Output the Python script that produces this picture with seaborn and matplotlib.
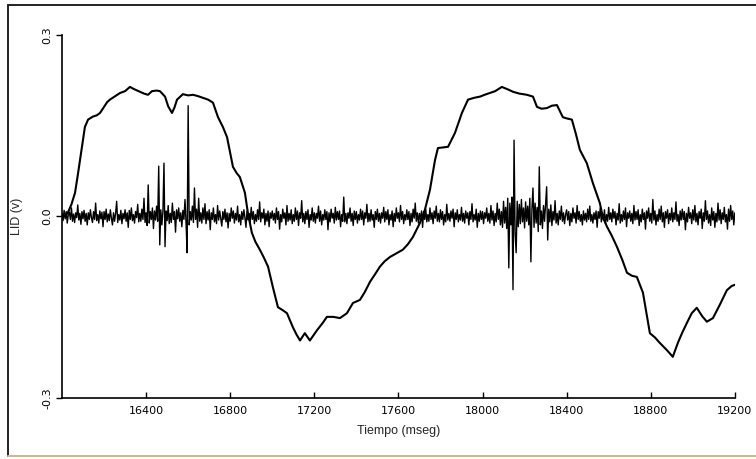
import numpy as np
import pandas as pd
import matplotlib
matplotlib.use("Agg")
import matplotlib.pyplot as plt
import seaborn as sns
from matplotlib.lines import Line2D

# ---- data ----
# slow waveform (time in ms, LID in volts)
wave_t = [16000, 16015, 16029, 16045, 16062, 16075, 16086, 16098, 16109, 16124, 16147, 16165,
          16181, 16200, 16215, 16228, 16250, 16276, 16300, 16323, 16345, 16371, 16390, 16409,
          16428, 16450, 16466, 16490, 16505, 16523, 16535, 16547, 16575, 16600, 16623, 16645,
          16670, 16695, 16718, 16742, 16765, 16785, 16800, 16813, 16830, 16846, 16870, 16884,
          16903, 16920, 16941, 16960, 16980, 17003, 17027, 17050, 17070, 17098, 17115, 17132,
          17155, 17179, 17195, 17213, 17240, 17260, 17290, 17322, 17355, 17384, 17417, 17440,
          17465, 17490, 17512, 17535, 17560, 17590, 17621, 17645, 17669, 17702, 17726, 17750,
          17774, 17788, 17810, 17836, 17869, 17902, 17931, 17960, 17988, 18010, 18035, 18060,
          18092, 18120, 18145, 18175, 18211, 18240, 18259, 18280, 18306, 18330, 18354, 18382,
          18400, 18425, 18445, 18463, 18496, 18525, 18558, 18572, 18592, 18615, 18639, 18665,
          18687, 18710, 18734, 18763, 18780, 18796, 18820, 18843, 18860, 18877, 18905, 18929,
          18950, 18972, 18995, 19019, 19045, 19067, 19096, 19130, 19162, 19185, 19200]
wave_v = [0.000, 0.001, 0.007, 0.020, 0.039, 0.068, 0.094, 0.122, 0.148, 0.160, 0.165, 0.167,
          0.171, 0.181, 0.189, 0.193, 0.198, 0.204, 0.207, 0.214, 0.210, 0.206, 0.203, 0.201,
          0.207, 0.208, 0.207, 0.198, 0.182, 0.171, 0.180, 0.193, 0.202, 0.200, 0.201, 0.199,
          0.196, 0.193, 0.188, 0.164, 0.148, 0.131, 0.105, 0.082, 0.072, 0.065, 0.039, 0.006,
          -0.027, -0.042, -0.055, -0.068, -0.083, -0.117, -0.150, -0.155, -0.160, -0.183, -0.195, -0.205,
          -0.193, -0.205, -0.197, -0.188, -0.176, -0.166, -0.166, -0.168, -0.160, -0.143, -0.138, -0.125,
          -0.108, -0.095, -0.083, -0.074, -0.067, -0.061, -0.055, -0.046, -0.034, -0.011, 0.011, 0.044,
          0.093, 0.113, 0.114, 0.115, 0.138, 0.171, 0.193, 0.196, 0.198, 0.201, 0.204, 0.207,
          0.214, 0.210, 0.206, 0.203, 0.201, 0.198, 0.181, 0.178, 0.179, 0.183, 0.184, 0.164,
          0.162, 0.160, 0.135, 0.110, 0.088, 0.055, 0.022, -0.001, -0.017, -0.032, -0.050, -0.072,
          -0.093, -0.098, -0.100, -0.126, -0.160, -0.193, -0.200, -0.209, -0.215, -0.221, -0.232, -0.209,
          -0.192, -0.176, -0.160, -0.151, -0.165, -0.174, -0.168, -0.145, -0.122, -0.115, -0.113]

# fast noisy trace, one reading every 5 ms from 16000 ms (millivolts)
noise_t0 = 16000
noise_dt = 5
noise_mv = [
    5, -7, 10, -4, 8, -11, 3, 7, -5, 14, -8, 4, -10, 6, -2, 19, -6, 5, -13, 8,
    -4, 10, -8, 5, -14, 6, -5, 11, -2, -10, 8, -5, 22, -7, 3, -11, 9, -4, 7, -17,
    8, -5, 12, -9, 4, -7, 11, -3, -14, 6, -8, 5, 25, -10, 3, -6, 10, -12, 5, -4,
    11, -8, 6, -18, 10, -5, 14, -7, 3, -11, 8, -2, 20, -9, 5, -8, 12, -5, 30, -10,
    6, -15, 52, -11, 8, -5, 14, -20, 9, -6, 17, -8, 83, -47, 11, -14, 8, 88, -50, 9,
    -7, 18, -12, 5, -10, 22, -5, 8, -26, 11, -4, 14, -8, 6, -17, 10, -5, 28, -11, -60,
    183, -14, 8, -6, 17, -10, 47, -5, 12, -18, 30, -8, 6, -11, 14, -5, 21, -12, 8, -6,
    11, -22, 6, -5, 14, -9, 3, -12, 18, -6, 9, -3, -16, 8, -5, 12, -9, 6, -19, 5,
    -8, 14, -3, 9, -11, 5, -6, 17, -9, 3, -14, 8, -5, 11, -2, -18, 9, -6, 5, -9,
    15, -5, 8, -12, 3, -8, 11, -5, 24, -9, 6, -3, 12, -14, 5, -8, 9, -17, 6, -3,
    9, -6, 5, -11, 14, -5, 8, -21, 3, -9, 12, -3, 6, -14, 18, -8, 5, -6, 11, -12,
    3, -8, 14, -5, 9, -15, 6, -3, 26, -9, 5, -12, 8, -5, 11, -18, 3, -6, 14, -8,
    6, -11, 5, -3, 17, -8, 9, -14, 3, -6, 11, -5, 8, -22, 6, -9, 12, -3, 5, -11,
    15, -6, 8, -5, 9, -17, 3, -8, 32, -9, 5, -12, 6, -3, 14, -8, 5, -15, 9, -5,
    8, -11, 3, -6, 12, -5, 9, -14, 6, -3, 20, -9, 5, -8, 11, -6, 3, -18, 8, -5,
    12, -8, 5, -11, 6, -3, 15, -9, 8, -5, 11, -14, 3, -6, 9, -17, 5, -8, 14, -3,
    6, -9, 18, -5, 8, -12, 3, -6, 11, -5, 8, -15, 5, -9, 12, -3, 22, -8, 6, -11,
    5, -6, 9, -18, 8, -5, 12, -9, 3, -8, 14, -5, 6, -12, 9, -3, 17, -8, 5, -9,
    11, -5, 8, -14, 3, -9, 20, -6, 5, -8, 9, -3, 12, -17, 6, -5, 11, -9, 3, -6,
    15, -8, 5, -11, 9, -3, 6, -14, 8, -5, 21, -9, 3, -6, 12, -18, 5, -8, 9, -5,
    8, -12, 6, -3, 14, -8, 5, -11, 18, -6, 9, -15, 5, -9, 22, -5, 12, -14, 8, -18,
    25, -11, 15, -20, 30, -85, 22, -14, 32, -121, 126, -28, -60, 25, -17, 20, -12, 28, -9, 14,
    -19, 24, -8, 17, -14, 30, -75, 12, 47, -18, 22, -11, 15, -25, 82, -14, 9, -20, 18, -8,
    21, 49, -39, 12, -9, 19, -15, 8, -6, 26, -11, 5, -14, 9, -5, 17, -8, 6, -12, 3,
    11, -6, 8, -15, 5, -9, 14, -3, 6, -11, 18, -5, 8, -8, 3, -14, 9, -6, 5, -9,
    12, -5, 17, -8, 3, -11, 6, -5, 9, -18, 8, -3, 14, -9, 5, -6, 11, -12, 3, -8,
    15, -5, 6, -9, 12, -3, 8, -14, 5, -6, 21, -11, 3, -8, 9, -5, 14, -17, 6, -3,
    9, -8, 5, -12, 18, -6, 8, -5, 11, -15, 3, -9, 12, -5, 6, -21, 9, -3, 14, -8,
    5, -11, 28, -6, 9, -14, 3, -8, 12, -5, 17, -9, 6, -18, 8, -3, 11, -12, 5, -6,
    14, -9, 6, -5, 24, -8, 3, -15, 9, -6, 12, -5, 8, -22, 5, -9, 15, -3, 6, -12,
    11, -6, 18, -9, 5, -14, 8, -3, 12, -20, 6, -8, 26, -5, 9, -11, 3, -15, 14, -6,
    8, -18, 5, -9, 22, -6, 11, -12, 6, -5, 15, -9, 3, -21, 12, -8, 18, -5, 9, -14,
    6]

x_ticks = [16400, 16800, 17200, 17600, 18000, 18400, 18800, 19200]
y_ticks = [-0.3, 0.0, 0.3]
y_ticklabels = ["-0.3", "0.0", "0.3"]

# ---- tables ----
wave_df = pd.DataFrame({"t": wave_t, "v": wave_v})
noise_df = pd.DataFrame({
    "t": noise_t0 + noise_dt * np.arange(len(noise_mv)),
    "v": np.array(noise_mv) / 1000.0,
})

sns.set_theme(style="white")
plt.rcParams["font.family"] = ["DejaVu Sans"]

fig = plt.figure(figsize=(7.56, 4.59), dpi=100)
fig.patch.set_facecolor("white")
ax = fig.add_axes([0.082, 0.133, 0.890, 0.791])
ax.set_facecolor("white")

sns.lineplot(data=noise_df, x="t", y="v", ax=ax, color="black", linewidth=1.0,
             estimator=None, sort=False)
sns.lineplot(data=wave_df, x="t", y="v", ax=ax, color="black", linewidth=1.5,
             estimator=None, sort=False)

ax.set_xlim(16000, 19200)
ax.set_ylim(-0.3, 0.3)
ax.set_xticks(x_ticks)
ax.set_xticklabels([str(v) for v in x_ticks], fontsize=8)
ax.set_yticks(y_ticks)
ax.set_yticklabels(y_ticklabels, fontsize=8, rotation=90, va="center")

for s in ["top", "right"]:
    ax.spines[s].set_visible(False)
for s in ["left", "bottom"]:
    ax.spines[s].set_color("black")
    ax.spines[s].set_linewidth(1.2)

ax.tick_params(axis="x", direction="in", length=4, width=1, colors="black", pad=6, bottom=True)
ax.tick_params(axis="y", direction="out", length=4, width=1, colors="black", pad=3, left=True)

ax.set_xlabel("Tiempo (mseg)", fontsize=9, family="Liberation Sans", labelpad=6)
ax.set_ylabel("LID (v)", fontsize=9, family="Liberation Sans", labelpad=14)

# scanned page frame (top, left, bottom)
fig.add_artist(Line2D([8 / 756, 1.0], [1 - 5 / 459, 1 - 5 / 459], transform=fig.transFigure,
                      color="#222222", linewidth=1.4))
fig.add_artist(Line2D([8 / 756, 8 / 756], [1 - 5 / 459, 1 - 456 / 459], transform=fig.transFigure,
                      color="#222222", linewidth=1.4))
fig.add_artist(Line2D([8 / 756, 1.0], [1 - 456 / 459, 1 - 456 / 459], transform=fig.transFigure,
                      color="#c8b890", linewidth=1.4))

fig.savefig("out.png", dpi=100, facecolor="white")
